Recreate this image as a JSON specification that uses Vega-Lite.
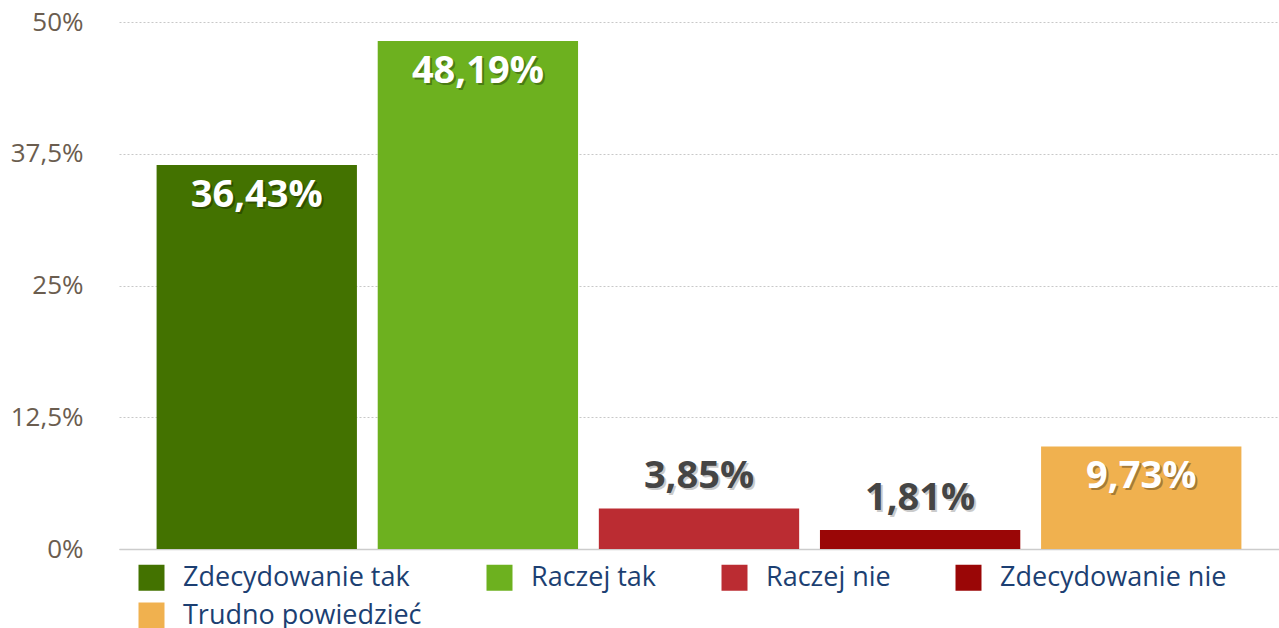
{
  "$schema": "https://vega.github.io/schema/vega-lite/v6.json",
  "width": 1160,
  "height": 527,
  "autosize": {"type": "none"},
  "padding": {"left": 119, "top": 22, "right": 0, "bottom": 79},
  "background": "white",
  "config": {"view": {"stroke": null}, "font": "Open Sans"},
  "data": {"values": [
    {"kat": "Zdecydowanie tak", "v": 36.43, "lab": "36,43%"},
    {"kat": "Raczej tak", "v": 48.19, "lab": "48,19%"},
    {"kat": "Raczej nie", "v": 3.85, "lab": "3,85%"},
    {"kat": "Zdecydowanie nie", "v": 1.81, "lab": "1,81%"},
    {"kat": "Trudno powiedzieć", "v": 9.73, "lab": "9,73%"}
  ]},
  "encoding": {
    "x": {"field": "kat", "type": "nominal", "sort": null,
      "scale": {"paddingInner": 0.094, "paddingOuter": 0.17},
      "axis": {"title": null, "labels": false, "ticks": false, "domainColor": "#cccccc", "domainWidth": 1.5, "grid": false}},
    "y": {"field": "v", "type": "quantitative",
      "scale": {"domain": [0, 50], "nice": false},
      "axis": {"title": null, "values": [0, 12.5, 25, 37.5, 50], "format": ".1~f",
        "labelExpr": "replace(datum.label, '.', ',') + '%'",
        "labelFontSize": 26, "labelColor": "#6b5d4f", "labelPadding": 36, "labelFont": "Open Sans",
        "domain": false, "ticks": false, "gridColor": "#c8c8c8", "gridDash": [2, 2], "gridWidth": 1}}
  },
  "layer": [
    {
      "mark": {"type": "bar"},
      "encoding": {
        "color": {"field": "kat", "type": "nominal", "sort": null,
          "scale": {"domain": ["Zdecydowanie tak", "Raczej tak", "Raczej nie", "Zdecydowanie nie", "Trudno powiedzieć"],
                    "range": ["#437200", "#6db11f", "#bb2c32", "#9a0606", "#f0b14f"]},
          "legend": {"title": null, "orient": "none", "direction": "horizontal", "legendX": 19, "legendY": 542, "columns": 4,
            "columnPadding": 64, "rowPadding": 10, "symbolType": "square", "symbolSize": 676,
            "symbolStrokeWidth": 0, "labelFontSize": 27, "labelColor": "#1c3f72", "labelFont": "Open Sans",
            "labelOffset": 18, "labelLimit": 400}}
      }
    },
    {
      "transform": [{"filter": "datum.v >= 5"}],
      "mark": {"type": "text", "baseline": "middle", "dy": 33, "dx": 2, "fontSize": 38, "fontWeight": "bold", "color": "#000000", "opacity": 0.3},
      "encoding": {"text": {"field": "lab"}}
    },
    {
      "transform": [{"filter": "datum.v >= 5"}],
      "mark": {"type": "text", "baseline": "middle", "dy": 31, "fontSize": 38, "fontWeight": "bold", "color": "#ffffff"},
      "encoding": {"text": {"field": "lab"}}
    },
    {
      "transform": [{"filter": "datum.v < 5"}],
      "mark": {"type": "text", "baseline": "middle", "dy": -29, "dx": 2, "fontSize": 38, "fontWeight": "bold", "color": "#000000", "opacity": 0.2},
      "encoding": {"text": {"field": "lab"}}
    },
    {
      "transform": [{"filter": "datum.v < 5"}],
      "mark": {"type": "text", "baseline": "middle", "dy": -31, "fontSize": 38, "fontWeight": "bold", "color": "#454545"},
      "encoding": {"text": {"field": "lab"}}
    }
  ]
}
